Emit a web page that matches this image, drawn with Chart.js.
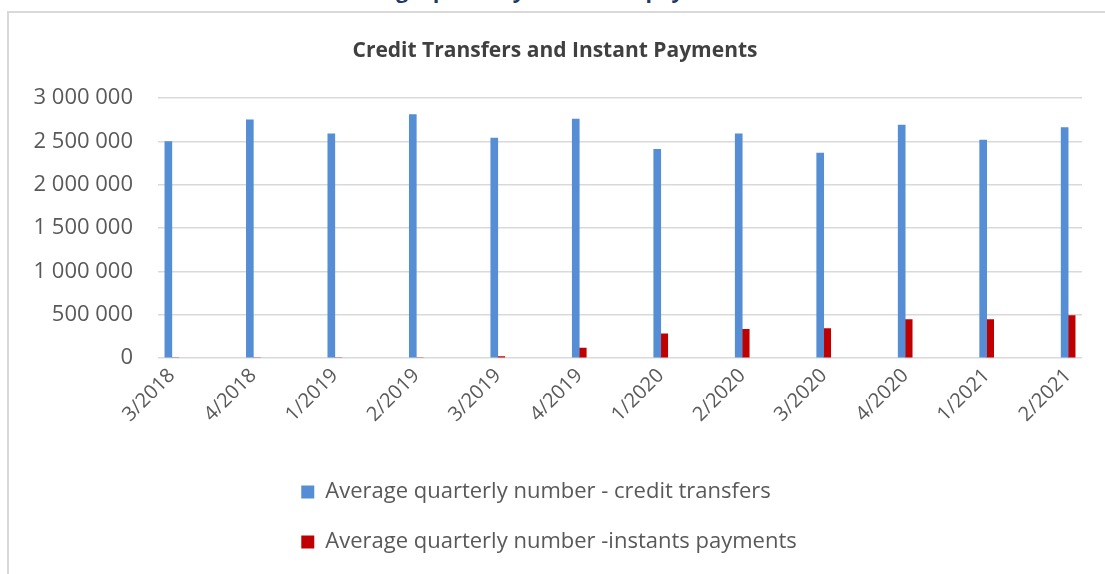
<!DOCTYPE html>
<html>
<head>
<meta charset="utf-8">
<script src="https://cdn.jsdelivr.net/npm/chart.js@4.4.1/dist/chart.umd.min.js"></script>
<style>
  html, body { margin: 0; padding: 0; background: #fff; overflow: hidden; }
  body { width: 1105px; height: 574px; position: relative; }
  #heading {
    position: absolute; left: 0; width: 1085px; top: -24px;
    text-align: center; font: bold 21px 'Open Sans', sans-serif; color: #1F3864;
  }
  #frame {
    position: absolute; left: 7px; top: 11px; width: 1120px; height: 600px;
    border-top: 2px solid #D9D9D9; border-left: 2px solid #D9D9D9;
  }
  #wrap { position: absolute; left: 0; top: 0; width: 1105px; height: 574px; }
</style>
</head>
<body>
<div id="heading">Average quarterly number of payments</div>
<div id="frame"></div>
<div id="wrap"><canvas id="chart"></canvas></div>
<script>
const quarters = ["3/2018", "4/2018", "1/2019", "2/2019", "3/2019", "4/2019",
  "1/2020", "2/2020", "3/2020", "4/2020", "1/2021", "2/2021"];
const creditTransfers = [2500000, 2750000, 2590000, 2810000, 2540000, 2760000,
  2410000, 2590000, 2365000, 2690000, 2515000, 2660000];
const instantPayments = [0, 0, 0, 0, 15000, 115000,
  280000, 330000, 340000, 445000, 445000, 490000];
const yTicks = [0, 500000, 1000000, 1500000, 2000000, 2500000, 3000000];

const grey = "#595959";
const font = "'Open Sans', sans-serif";

// thousands separated by a space, like "3 000 000"
function fmt(v) {
  return String(v).replace(/\B(?=(\d{3})+(?!\d))/g, "\u00a0");
}

const toPoints = (vals) => vals.map((v, i) => ({ x: i, y: v }));

// the legend is stacked, one entry per row, rows share the same left edge
const stackedLegend = {
  id: "stackedLegend",
  beforeLayout(chart) {
    const lg = chart.legend;
    if (lg && !lg._stacked) {
      const upd = lg.update.bind(lg);
      lg.update = (w, h, m) => {
        upd(Math.min(w, 600), h, m);
        const widest = Math.max(...lg.lineWidths);
        lg.lineWidths = lg.lineWidths.map(() => widest + 12);
      };
      lg._stacked = true;
    }
  },
};

new Chart(document.getElementById("chart"), {
  type: "bar",
  data: {
    datasets: [
      {
        label: "Average quarterly number - credit transfers",
        data: toPoints(creditTransfers),
        backgroundColor: "#558ED5",
        borderWidth: 0,
        barThickness: 7,
      },
      {
        label: "Average quarterly number -instants payments",
        data: toPoints(instantPayments),
        backgroundColor: "#C00000",
        borderWidth: 0,
        barThickness: 7,
      },
    ],
  },
  plugins: [stackedLegend],
  options: {
    responsive: true,
    maintainAspectRatio: false,
    animation: false,
    layout: { padding: { left: 28, right: 23, top: 0, bottom: 11 } },
    scales: {
      x: {
        type: "linear",
        offset: false,
        min: -0.17,
        max: 11.17,
        grid: { display: false, drawTicks: false },
        border: { display: false },
        afterBuildTicks: (s) => {
          s.ticks = quarters.map((q, i) => ({ value: i }));
        },
        afterFit: (s) => { s.height = 95; },
        ticks: {
          autoSkip: false,
          minRotation: 45,
          maxRotation: 45,
          padding: 6,
          color: grey,
          font: { family: font, size: 20 },
          callback: (v) => quarters[v],
        },
      },
      y: {
        min: 0,
        max: 3000000,
        afterBuildTicks: (s) => {
          s.ticks = yTicks.map((v) => ({ value: v }));
        },
        afterFit: (s) => { s.width = 130; },
        grid: { color: "#D9D9D9", lineWidth: 1.5, drawTicks: false },
        border: { display: false },
        ticks: {
          padding: 25,
          color: grey,
          font: { family: font, size: 22 },
          callback: (v) => fmt(v),
        },
      },
    },
    plugins: {
      title: {
        display: true,
        text: "Credit Transfers and Instant Payments",
        color: "#404040",
        font: { family: font, size: 21, weight: "bold" },
        padding: { top: 38, bottom: 35 },
      },
      legend: {
        display: true,
        position: "bottom",
        labels: {
          color: grey,
          font: { family: font, size: 22 },
          boxWidth: 13,
          boxHeight: 13,
          padding: 28,
        },
      },
      tooltip: { enabled: false },
    },
  },
});
</script>
</body>
</html>
